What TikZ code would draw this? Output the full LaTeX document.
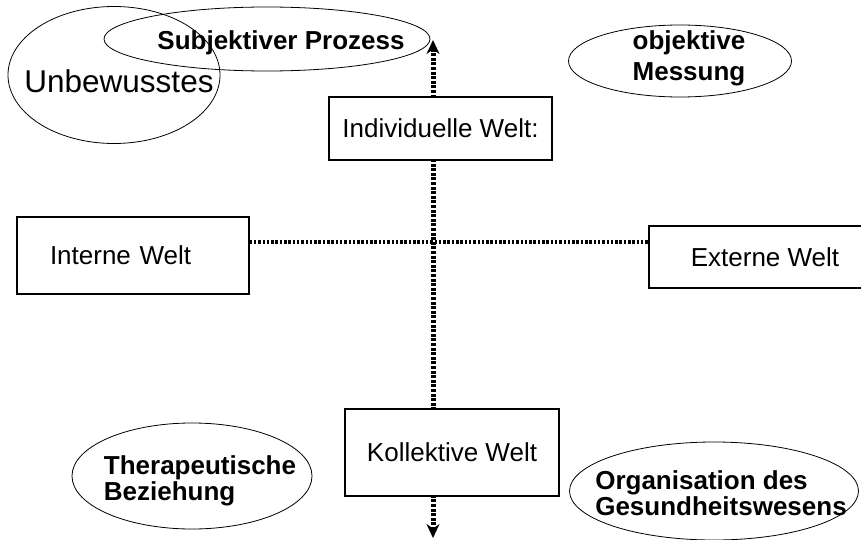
\documentclass[tikz,border=0pt]{standalone}
\usepackage{fontspec}
\setmainfont{Liberation Sans}
\usetikzlibrary{shapes.geometric,arrows.meta}

\tikzset{
  welt/.style={draw, fill=white, line width=1.2pt, inner sep=0pt,
    font=\fontsize{26}{30}\selectfont},
  oval/.style={draw, ellipse, line width=0.8pt, inner sep=0pt},
  fett/.style={inner sep=0pt, align=left, font=\fontsize{26}{26}\selectfont\bfseries},
  achse/.style={line width=5pt, dash pattern=on 3pt off 1.6pt},
  querachse/.style={line width=4pt, dash pattern=on 2.5pt off 1.8pt},
  spitze/.tip={Stealth[length=14pt, width=13pt]},
}

\begin{document}
\begin{tikzpicture}[x=1pt, y=-1pt]
  \useasboundingbox (0,0) rectangle (861,540);
  % Achsen
  \coordinate (oben)  at (433,40);
  \coordinate (unten) at (433,538);
  \coordinate (kreuz) at (433,242);
  \draw[achse, spitze-spitze] (oben) -- (unten);
  % vier Welten
  \node[welt, minimum width=223, minimum height=63] (indiv) at (440.5,128.5) {Individuelle Welt:};
  \node[welt, minimum height=77, text width=166, inner xsep=33, align=left] (intern) at (133,255.5) {Interne Welt};
  \node[welt, minimum width=232, minimum height=62] (extern) at (765,257) {Externe Welt};
  \node[welt, minimum width=214, minimum height=87] (koll) at (452,452.5) {Kollektive Welt};
  \draw[querachse] (intern.east |- kreuz) -- (extern.west |- kreuz);
  % Ellipsen
  \node[oval, minimum width=212, minimum height=137] (unbew) at (114,75) {};
  \node[oval, minimum width=326, minimum height=64] (subj) at (267,39) {};
  \node[oval, minimum width=223, minimum height=72] (objekt) at (680,61) {};
  \node[oval, minimum width=240, minimum height=106] (therap) at (192,476) {};
  \node[oval, minimum width=289, minimum height=98] (organ) at (714,491) {};
  % Beschriftungen
  \node[inner sep=0pt, font=\fontsize{31.5}{32}\selectfont] (unbewtext) at (119,81) {Unbewusstes};
  \node[fett] (subjtext) at (281,43) {Subjektiver Prozess};
  \node[fett, align=center, font=\fontsize{26}{31}\selectfont\bfseries] (objekttext) at (689,58) {objektive\\Messung};
  \node[fett] (theraptext) at (200,481) {Therapeutische\\Beziehung};
  \node[fett] (organtext) at (721,493) {Organisation des\\Gesundheitswesens};
\end{tikzpicture}
\end{document}
